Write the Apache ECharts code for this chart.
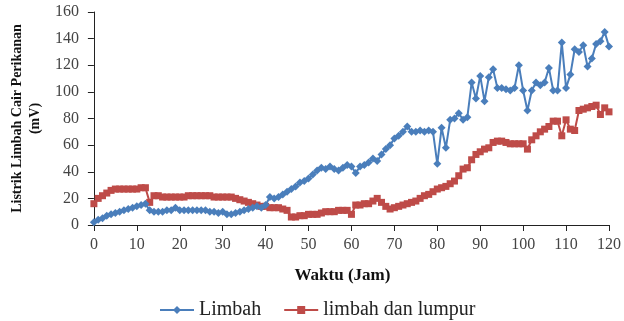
<!DOCTYPE html>
<html>
<head>
<meta charset="utf-8">
<script src="https://cdn.jsdelivr.net/npm/echarts@6/dist/echarts.min.js"></script>
<style>html,body{margin:0;padding:0;background:#fff}#c{width:624px;height:321px}</style>
</head>
<body>
<div id="c"></div>
<script>
const hours = [0,1,2,3,4,5,6,7,8,9,10,11,12,13,14,15,16,17,18,19,20,21,22,23,24,25,26,27,28,29,30,31,32,33,34,35,36,37,38,39,40,41,42,43,44,45,46,47,48,49,50,51,52,53,54,55,56,57,58,59,60,61,62,63,64,65,66,67,68,69,70,71,72,73,74,75,76,77,78,79,80,81,82,83,84,85,86,87,88,89,90,91,92,93,94,95,96,97,98,99,100,101,102,103,104,105,106,107,108,109,110,111,112,113,114,115,116,117,118,119,120];

const limbah = [2,4,5,7,8,9,10,11,12,13,14,15,16,11,10,10,10,11,11,13,11,11,11,11,11,11,11,10,10,9,10,8,8,9,10,11,12,13,14,13,15,21,20,21,23,25,27,29,32,33,35,38,41,43,42,44,42,41,43,45,44,39,44,45,47,50,48,53,57,60,65,67,70,74,70,70,71,70,71,70,46,73,58,79,80,84,79,81,107,95,112,93,111,117,103,103,102,101,103,120,101,86,101,107,105,107,118,101,101,137,103,113,132,130,135,119,125,136,138,145,134];

const limbahLumpur = [16,20,22,24,26,27,27,27,27,27,27,28,28,17,22,22,21,21,21,21,21,21,22,22,22,22,22,22,21,21,21,21,21,20,19,18,17,16,15,14,14,13,13,13,12,11,6,6,7,7,8,8,8,9,10,10,10,11,11,11,8,15,15,16,16,18,20,17,14,12,13,14,15,16,17,18,20,22,23,25,27,28,29,31,33,37,42,43,49,53,55,57,58,62,63,63,62,61,61,61,61,57,64,67,70,72,74,78,78,67,79,72,71,86,87,88,89,90,83,88,85];

const seriesNames = ['Limbah', 'limbah dan lumpur'];
const xTitle = 'Waktu (Jam)';
const yTitle = 'Listrik Limbah Cair Perikanan\n(mV)';

const FONT = 'Liberation Serif';
const chart = echarts.init(document.getElementById('c'), null, {renderer: 'canvas'});
chart.setOption({
  animation: false,
  backgroundColor: '#fff',
  textStyle: {fontFamily: FONT},
  grid: {left: 92, right: 13, top: 12, bottom: 96, containLabel: false},
  legend: {
    left: 154, top: 295,
    itemWidth: 34, itemHeight: 10, itemGap: 22,
    textStyle: {fontFamily: FONT, fontSize: 20, color: '#222'},
    data: seriesNames
  },
  xAxis: {
    type: 'value', min: 0, max: 120, interval: 10,
    name: xTitle, nameLocation: 'middle', nameGap: 42,
    nameTextStyle: {fontFamily: FONT, fontSize: 17, fontWeight: 'bold', color: '#111', padding: [0, 18, 0, 0]},
    axisLine: {show: true, lineStyle: {color: '#222', width: 1}},
    axisTick: {show: true, inside: false, length: 6, lineStyle: {color: '#222'}},
    axisLabel: {fontFamily: FONT, fontSize: 16, color: '#444', margin: 12},
    splitLine: {show: false}
  },
  yAxis: {
    type: 'value', min: 0, max: 160, interval: 20,
    name: yTitle, nameLocation: 'middle', nameGap: 49, nameRotate: 90,
    nameTextStyle: {fontFamily: FONT, fontSize: 14, fontWeight: 'bold', color: '#111', lineHeight: 18},
    axisLine: {show: true, lineStyle: {color: '#222', width: 1}},
    axisTick: {show: true, inside: false, length: 6, lineStyle: {color: '#222'}},
    axisLabel: {fontFamily: FONT, fontSize: 16, color: '#444', margin: 15},
    splitLine: {show: false}
  },
  series: [
    {
      name: seriesNames[0], type: 'line',
      data: hours.map((h, i) => [h, limbah[i]]),
      symbol: 'diamond', symbolSize: 8, showAllSymbol: true,
      lineStyle: {color: '#4a7ebb', width: 2},
      itemStyle: {color: '#4a7ebb'},
      z: 3
    },
    {
      name: seriesNames[1], type: 'line',
      data: hours.map((h, i) => [h, limbahLumpur[i]]),
      symbol: 'rect', symbolSize: 7, showAllSymbol: true,
      lineStyle: {color: '#be4b48', width: 2},
      itemStyle: {color: '#be4b48'},
      z: 2
    }
  ]
});
</script>
</body>
</html>
